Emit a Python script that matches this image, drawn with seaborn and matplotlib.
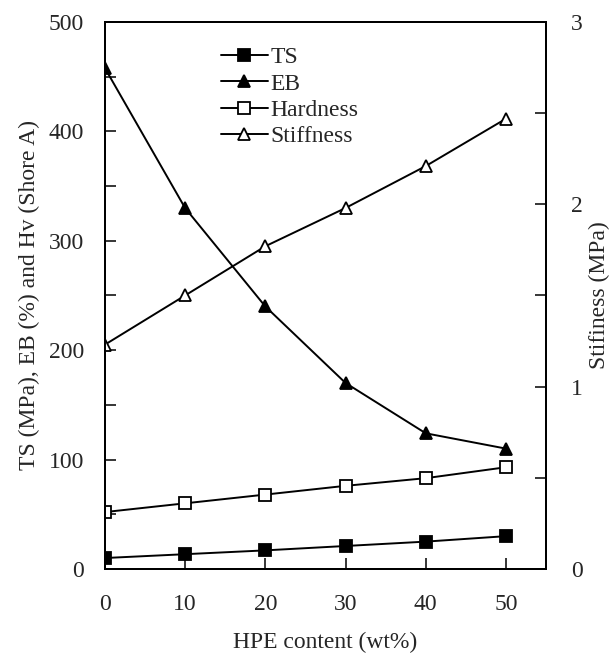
import matplotlib
matplotlib.use("Agg")
import matplotlib.pyplot as plt
import seaborn as sns
import pandas as pd
from matplotlib.lines import Line2D
from matplotlib.ticker import MultipleLocator

sns.set_theme(style="ticks")
plt.rcParams['font.family'] = ['Liberation Serif', 'DejaVu Serif']

hpe = [0, 10, 20, 30, 40, 50]
ts = [10, 13.5, 17, 21, 25, 30]
eb = [458, 330, 240, 170, 124, 110]
hardness = [52, 60, 68, 76, 83, 93]
stiffness = [1.23, 1.50, 1.77, 1.98, 2.21, 2.47]

df = pd.DataFrame({"HPE": hpe, "TS": ts, "EB": eb, "Hardness": hardness, "Stiffness": stiffness})

fig = plt.figure(figsize=(6.13, 6.57), dpi=100)
ax = fig.add_axes([0.171, 0.134, 0.72, 0.8325])
ax2 = ax.twinx()

lw = 1.4
ms = 9
styles = {
    "TS": dict(marker="s", markerfacecolor="black", markeredgecolor="black"),
    "EB": dict(marker="^", markerfacecolor="black", markeredgecolor="black"),
    "Hardness": dict(marker="s", markerfacecolor="white", markeredgecolor="black"),
    "Stiffness": dict(marker="^", markerfacecolor="white", markeredgecolor="black"),
}

for name in ["TS", "EB", "Hardness"]:
    sns.lineplot(data=df, x="HPE", y=name, ax=ax, color="black", linewidth=lw,
                 markersize=ms, markeredgewidth=1.3, **styles[name])
sns.lineplot(data=df, x="HPE", y="Stiffness", ax=ax2, color="black", linewidth=lw,
             markersize=ms, markeredgewidth=1.3, **styles["Stiffness"])

ax.set_xlim(0, 55)
ax.set_ylim(0, 500)
ax2.set_ylim(0, 3)
ax.set_xticks([0, 10, 20, 30, 40, 50])
ax.set_yticks([0, 100, 200, 300, 400, 500])
ax.yaxis.set_minor_locator(MultipleLocator(50))
ax2.set_yticks([0, 1, 2, 3])
ax2.yaxis.set_minor_locator(MultipleLocator(0.5))

fs = 17
ax.tick_params(axis="x", direction="in", length=8, width=1.3, pad=18, labelsize=fs)
ax.tick_params(axis="y", which="major", direction="in", length=8, width=1.3, pad=15, labelsize=fs)
ax.tick_params(axis="y", which="minor", direction="in", length=8, width=1.3)
ax2.tick_params(axis="y", which="major", direction="in", length=8, width=1.3, pad=18, labelsize=fs)
ax2.tick_params(axis="y", which="minor", direction="in", length=8, width=1.3)

for a in (ax, ax2):
    for s in a.spines.values():
        s.set_linewidth(1.4)
        s.set_color("black")

ax.set_xlabel("HPE content (wt%)", fontsize=fs, labelpad=12)
ax.set_ylabel("TS (MPa), EB (%) and Hv (Shore A)", fontsize=fs, labelpad=6)
ax2.set_ylabel("Stifiness (MPa)", fontsize=fs, labelpad=4)

handles = [Line2D([0], [0], color="black", linewidth=lw, markersize=ms, markeredgewidth=1.3, **styles[n])
           for n in ["TS", "EB", "Hardness", "Stiffness"]]
ax.legend(handles, ["TS", "EB", "Hardness", "Stiffness"], loc="upper left",
          bbox_to_anchor=(0.225, 0.985), frameon=False, fontsize=fs,
          handlelength=2.0, handletextpad=0.1, labelspacing=0.2, borderpad=0.2)

fig.savefig("out.png", dpi=100)
